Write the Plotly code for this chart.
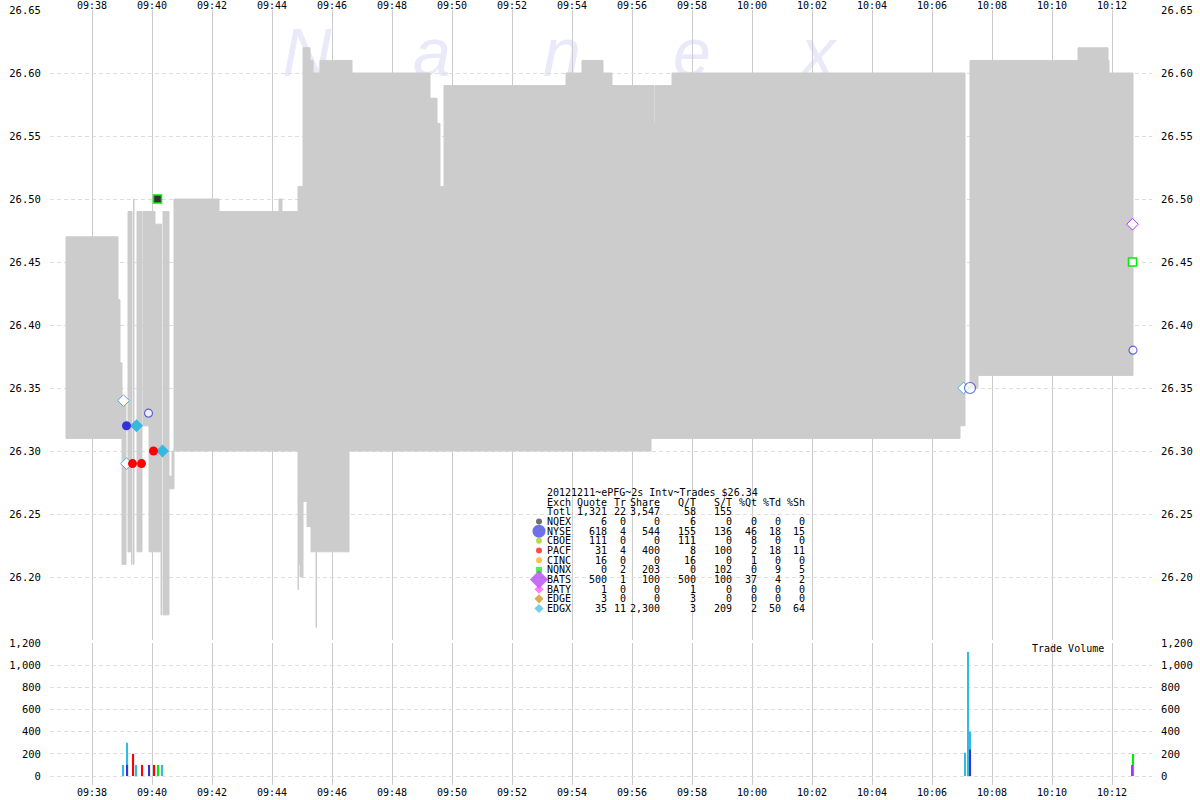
import plotly.graph_objects as go
import pandas as pd
import numpy as np

DAY = "2012-12-11 "
MONO = "DejaVu Sans Mono"

# ---------------- NBBO spread segments (start, end, bid, ask) ----------------
seg_start = ["09:37:08", "09:38:52", "09:38:56", "09:39:00", "09:39:12", "09:39:19", "09:39:23",
             "09:39:30", "09:39:42", "09:39:54", "09:40:06", "09:40:18", "09:40:22", "09:40:34",
             "09:40:40", "09:40:44", "09:42:14", "09:44:14", "09:44:20", "09:44:52", "09:44:54",
             "09:44:56", "09:45:02", "09:45:10", "09:45:16", "09:45:18", "09:45:22", "09:45:36",
             "09:45:28", "09:46:34", "09:46:40", "09:49:16", "09:49:30", "09:49:36", "09:49:44",
             "09:53:48", "09:54:20", "09:55:02", "09:55:20", "09:56:38", "09:56:44", "09:56:46",
             "09:57:20", "10:06:56", "10:07:16", "10:07:32", "10:10:52", "10:11:52", "10:11:54"]
seg_end = ["09:38:52", "09:38:56", "09:39:00", "09:39:08", "09:39:18", "09:39:20", "09:39:24",
           "09:39:40", "09:39:54", "09:40:06", "09:40:18", "09:40:19", "09:40:34", "09:40:40",
           "09:40:44", "09:42:14", "09:44:14", "09:44:20", "09:44:52", "09:44:53", "09:44:56",
           "09:45:02", "09:45:10", "09:45:16", "09:45:18", "09:45:22", "09:45:36", "09:46:34",
           "09:45:29", "09:46:40", "09:49:16", "09:49:30", "09:49:36", "09:49:44", "09:53:48",
           "09:54:20", "09:55:02", "09:55:20", "09:56:38", "09:56:44", "09:56:45", "09:57:20",
           "10:06:56", "10:07:06", "10:07:32", "10:10:52", "10:11:52", "10:11:54", "10:12:42"]
seg_bid = [26.31, 26.31, 26.31, 26.21, 26.22, 26.21, 26.21,
           26.22, 26.32, 26.22, 26.22, 26.17, 26.17, 26.27,
           26.27, 26.30, 26.30, 26.30, 26.30, 26.19, 26.21,
           26.20, 26.26, 26.24, 26.24, 26.22, 26.22, 26.22,
           26.16, 26.30, 26.30, 26.30, 26.30, 26.30, 26.30,
           26.30, 26.30, 26.30, 26.30, 26.31, 26.31, 26.31,
           26.31, 26.32, 26.35, 26.36, 26.36, 26.36, 26.36]
seg_ask = [26.47, 26.42, 26.37, 26.34, 26.49, 26.49, 26.50,
           26.49, 26.49, 26.49, 26.48, 26.48, 26.49, 26.28,
           26.30, 26.50, 26.49, 26.50, 26.49, 26.51, 26.51,
           26.51, 26.62, 26.62, 26.61, 26.61, 26.60, 26.61,
           26.22, 26.61, 26.60, 26.58, 26.56, 26.51, 26.59,
           26.60, 26.61, 26.60, 26.59, 26.59, 26.56, 26.59,
           26.60, 26.60, 26.61, 26.61, 26.62, 26.61, 26.60]

# ---------------- Trades (price panel) ----------------
edgx_t = ["09:39:29", "09:40:21"];            edgx_p = [26.32, 26.30]
edgx_o_t = ["09:39:03", "09:39:09", "10:07:03"]; edgx_o_p = [26.34, 26.29, 26.35]
nyse_t = ["09:39:09"];                        nyse_p = [26.32]
nyse_o_t = ["09:39:53", "10:07:16", "10:12:42"]; nyse_o_p = [26.33, 26.35, 26.38]
pacf_t = ["09:39:21", "09:39:39", "09:40:03"]; pacf_p = [26.29, 26.29, 26.30]
nqnx_t = ["09:40:11"];                        nqnx_p = [26.50]
nqnx_o_t = ["10:12:41"];                      nqnx_o_p = [26.45]
bats_o_t = ["10:12:41"];                      bats_o_p = [26.48]

# ---------------- Trade volume ----------------
vol_edgx_t = ["09:39:03", "09:39:11", "09:39:29", "09:40:21", "10:07:07", "10:07:13", "10:07:15", "10:07:17"]
vol_edgx = [100, 300, 100, 100, 210, 1120, 300, 400]
vol_nyse_t = ["09:39:11", "09:39:55", "10:07:16"];  vol_nyse = [100, 100, 240]
vol_pacf_t = ["09:39:23", "09:39:41", "09:40:05"];  vol_pacf = [200, 100, 100]
vol_nqnx_t = ["09:40:13", "10:12:43"];              vol_nqnx = [100, 200]
vol_bats_t = ["10:12:41"];                          vol_bats = [100]

price_ticks = [26.20, 26.25, 26.30, 26.35, 26.40, 26.45, 26.50, 26.55, 26.60, 26.65]
vol_ticks = [0, 200, 400, 600, 800, 1000, 1200]

# ---------------- Summary table ----------------
table_title = "20121211~ePFG~2s Intv~Trades $26.34"
table_header = ["Exch", "Quote", "Tr", "Share", "Q/T", "S/T", "%Qt", "%Td", "%Sh"]
table_total = ["Totl", "1,321", "22", "3,547", "58", "155", "", "", ""]
exch = ["NQEX", "NYSE", "CBOE", "PACF", "CINC", "NQNX", "BATS", "BATY", "EDGE", "EDGX"]
quote = ["6", "618", "111", "31", "16", "0", "500", "1", "3", "35"]
trd = ["0", "4", "0", "4", "0", "2", "1", "0", "0", "11"]
share = ["0", "544", "0", "400", "0", "203", "100", "0", "0", "2,300"]
qt = ["6", "155", "111", "8", "16", "0", "500", "1", "3", "3"]
st = ["0", "136", "0", "100", "0", "102", "100", "0", "0", "209"]
pqt = ["0", "46", "8", "2", "1", "0", "37", "0", "0", "2"]
ptd = ["0", "18", "0", "18", "0", "9", "4", "0", "0", "50"]
psh = ["0", "15", "0", "11", "0", "5", "2", "0", "0", "64"]
exch_color = ["#333333", "#3333dd", "#99cc00", "#ff0000", "#ffa500", "#00ee00", "#aa33ee", "#ff44ff", "#cc8800", "#36b9e0"]
exch_symbol = ["circle", "circle", "circle", "circle", "circle", "square", "diamond", "diamond", "diamond", "diamond"]
exch_size = [6, 13, 6, 6, 6, 6, 14, 7, 7, 7]

C_EDGX, C_NYSE, C_PACF, C_NQNX, C_BATS = "#36b9e0", "#3333dd", "#ff0000", "#00ee00", "#aa33ee"


def T(lst):
    return pd.to_datetime([DAY + s for s in lst])


W, H = 1200, 800
ML, MR, MT, MB = 50, 48, 10, 15
PW, PH = W - ML - MR, H - MT - MB


def px(xp):
    return (xp - ML) / PW


def py(yp):
    return (H - MB - yp) / PH


fig = go.Figure()

# spread bars
s0, s1 = T(seg_start), T(seg_end)
mid = s0 + (s1 - s0) / 2
wid = (s1 - s0).total_seconds() * 1000
fig.add_trace(go.Bar(x=mid, y=np.array(seg_ask) - np.array(seg_bid), base=seg_bid, width=wid,
                     marker=dict(color="#cccccc", line=dict(width=1, color="#cccccc")),
                     xaxis="x", yaxis="y", showlegend=False, hoverinfo="skip"))

# dummies for right-side axes
fig.add_trace(go.Scatter(x=[None], y=[None], xaxis="x", yaxis="y3", showlegend=False))
fig.add_trace(go.Scatter(x=[None], y=[None], xaxis="x2", yaxis="y4", showlegend=False))


def mk(t, p, symbol, size, fill, line, lw=1):
    fig.add_trace(go.Scatter(x=T(t), y=p, mode="markers", xaxis="x", yaxis="y", showlegend=False,
                             marker=dict(symbol=symbol, size=size, color=fill,
                                         line=dict(color=line, width=lw))))


mk(edgx_o_t, edgx_o_p, "diamond", 9, "white", C_EDGX)
mk(nyse_o_t, nyse_o_p, "circle", [8, 11, 8], "white", C_NYSE, 1.2)
mk(edgx_t, edgx_p, "diamond", 10, C_EDGX, C_EDGX, 0)
mk(nyse_t, nyse_p, "circle", 9, C_NYSE, C_NYSE, 0)
mk(pacf_t, pacf_p, "circle", 9, C_PACF, C_PACF, 0)
mk(nqnx_t, nqnx_p, "square", 8, "#333333", C_NQNX, 1.5)
mk(nqnx_o_t, nqnx_o_p, "square", 8, "white", C_NQNX, 1.5)
mk(bats_o_t, bats_o_p, "diamond", 9, "white", C_BATS, 1)

# volume bars
for tt, vv, cc in [(vol_edgx_t, vol_edgx, C_EDGX), (vol_nyse_t, vol_nyse, C_NYSE),
                   (vol_pacf_t, vol_pacf, C_PACF), (vol_nqnx_t, vol_nqnx, C_NQNX),
                   (vol_bats_t, vol_bats, C_BATS)]:
    fig.add_trace(go.Bar(x=T(tt), y=vv, width=2400, marker=dict(color=cc, line=dict(width=0)),
                         xaxis="x2", yaxis="y2", showlegend=False, hoverinfo="skip"))

# table legend markers on a pixel overlay axis
row_y = [492.5 + 9.67 * i for i in range(13)]
fig.add_trace(go.Scatter(x=[539] * len(exch), y=row_y[3:], mode="markers", xaxis="x3", yaxis="y5",
                         showlegend=False, hoverinfo="skip",
                         marker=dict(symbol=exch_symbol, size=exch_size, color=exch_color,
                                     line=dict(width=0))))

annotations = []
tf = dict(family=MONO, size=10, color="black")
annotations.append(dict(x=px(546), y=py(row_y[0]), xref="paper", yref="paper", text=table_title,
                        showarrow=False, xanchor="left", yanchor="middle", font=tf, borderpad=0))
col_right = [None, 607, 626, 660, 696, 732, 757, 781, 805]
rows = [table_header, table_total] + [list(r) for r in zip(exch, quote, trd, share, qt, st, pqt, ptd, psh)]
for ri, row in enumerate(rows):
    yy = py(row_y[ri + 1])
    for ci, cell in enumerate(row):
        if cell == "":
            continue
        if ci == 0:
            annotations.append(dict(x=px(546), y=yy, xref="paper", yref="paper", text=cell, showarrow=False,
                                    xanchor="left", yanchor="middle", font=tf, borderpad=0))
        else:
            annotations.append(dict(x=px(col_right[ci] + 1), y=yy, xref="paper", yref="paper", text=cell,
                                    showarrow=False, xanchor="right", yanchor="middle", font=tf, borderpad=0))
annotations.append(dict(x=px(1031), y=py(648), xref="paper", yref="paper", text="Trade Volume",
                        showarrow=False, xanchor="left", yanchor="middle", font=tf, borderpad=0))

# watermark letters as shape labels beneath traces
shapes = []
for letter, cx in zip(["N", "a", "n", "e", "x"], [307, 432, 562, 692, 818]):
    shapes.append(dict(type="rect", xref="paper", yref="paper", x0=px(cx - 40), x1=px(cx + 40),
                       y0=py(86), y1=py(6), line=dict(width=0), fillcolor="rgba(0,0,0,0)",
                       layer="between",
                       label=dict(text="<i>" + letter + "</i>", textposition="middle center",
                                  font=dict(family="Liberation Sans", size=68, color="#e9e9fa"))))

xr = ["2012-12-11 09:36:36", "2012-12-11 10:13:20"]
xcommon = dict(type="date", range=xr, tickformat="%H:%M", dtick=120000, tick0="2012-12-11 09:38:00",
               showgrid=True, gridcolor="#cccccc", gridwidth=1, zeroline=False, showline=False,
               ticks="", automargin=False, tickfont=dict(family=MONO, size=10, color="black"))
ycommon = dict(zeroline=False, showline=False, ticks="outside", ticklen=6, tickcolor="rgba(0,0,0,0)",
               automargin=False, tickfont=dict(family=MONO, size=10.5, color="black"))
price_dom = [py(640), 1]
vol_dom = [0, py(643)]

fig.update_layout(
    width=W, height=H, margin=dict(l=ML, r=MR, t=MT, b=MB, autoexpand=False),
    paper_bgcolor="white", plot_bgcolor="rgba(0,0,0,0)", barmode="overlay", showlegend=False,
    xaxis=dict(domain=[0, 1], anchor="y", side="top", ticklabelstandoff=-2, **xcommon),
    xaxis2=dict(domain=[0, 1], anchor="y2", side="bottom", matches="x", **xcommon),
    xaxis3=dict(domain=[0, 1], anchor="y5", range=[ML, W - MR], visible=False, automargin=False),
    yaxis=dict(domain=price_dom, range=[26.15, 26.65], tickvals=price_ticks, tickformat=".2f",
               showgrid=True, gridcolor="#dddddd", griddash="4px,3px", side="left", anchor="x", **ycommon),
    yaxis3=dict(overlaying="y", matches="y", range=[26.15, 26.65], tickvals=price_ticks, tickformat=".2f",
                showgrid=False, side="right", anchor="x", **ycommon),
    yaxis2=dict(domain=vol_dom, range=[-81, 1200], tickvals=vol_ticks, tickformat=",d",
                showgrid=True, gridcolor="#dddddd", griddash="4px,3px", side="left", anchor="x2", **ycommon),
    yaxis4=dict(overlaying="y2", matches="y2", range=[-81, 1200], tickvals=vol_ticks, tickformat=",d",
                showgrid=False, side="right", anchor="x2", **ycommon),
    yaxis5=dict(domain=[0, 1], anchor="x3", range=[H - MB, MT], visible=False, automargin=False),
    annotations=annotations, shapes=shapes,
)

fig.write_html("out.html", config={"displayModeBar": False},
               post_script="document.body.style.margin='0';")
